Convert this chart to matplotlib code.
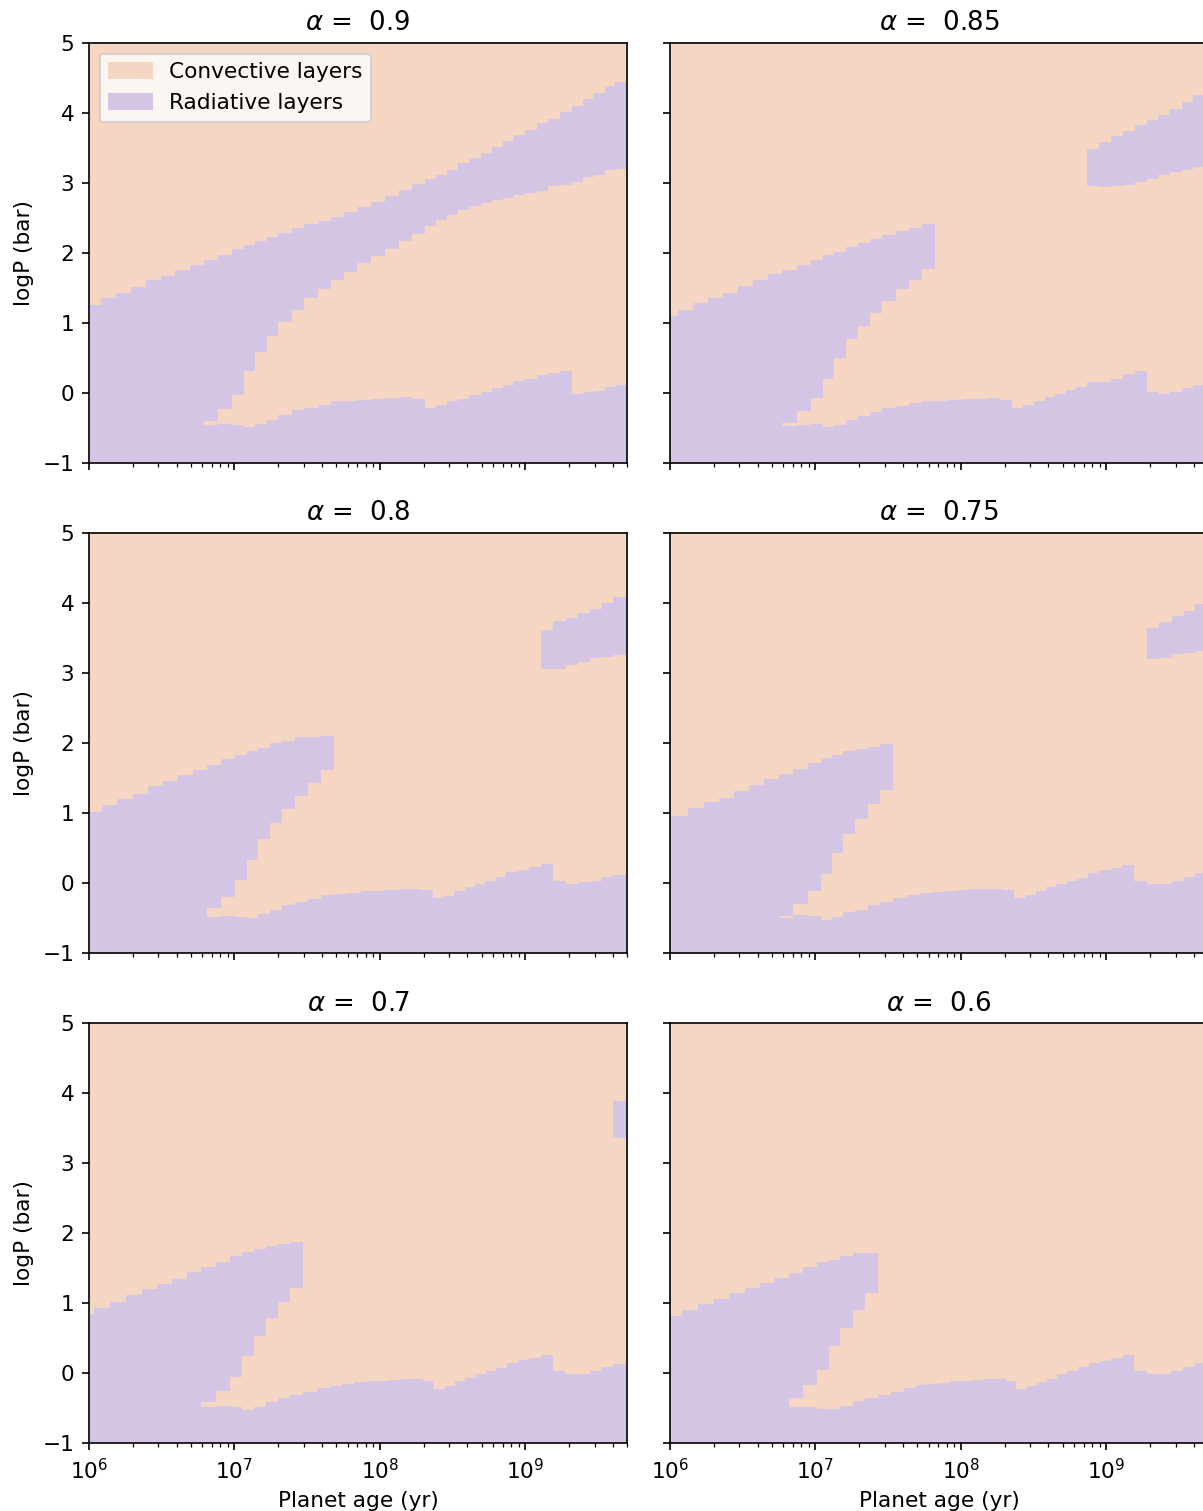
import numpy as np
import matplotlib
matplotlib.use('Agg')
import matplotlib.pyplot as plt
from matplotlib.patches import Patch

plt.rcParams['font.size'] = 10.4

nan = np.nan

conv_color = '#f4d6c3'
rad_color = '#d3c5e3'
YMIN, YMAX = -1, 5

alphas = ['0.9', '0.85', '0.8', '0.75', '0.7', '0.6']

# step edges in log10(age/yr); band = upper radiative zone, deep = lower radiative zone top
log_age_090 = [6.000, 6.083, 6.186, 6.289, 6.392, 6.495, 6.591, 6.694, 6.791, 6.887, 6.983,
               7.066, 7.141, 7.224, 7.299, 7.396, 7.478, 7.574, 7.664, 7.753, 7.843, 7.939,
               8.035, 8.131, 8.221, 8.310, 8.386, 8.461, 8.537, 8.613, 8.695, 8.771, 8.846,
               8.922, 8.998, 9.080, 9.156, 9.238, 9.321, 9.396, 9.472, 9.548, 9.616, 9.699]
band_top_090 = [1.26, 1.36, 1.43, 1.51, 1.61, 1.67, 1.75, 1.83, 1.90, 1.97, 2.05, 2.11, 2.17,
                2.23, 2.29, 2.35, 2.41, 2.46, 2.52, 2.58, 2.66, 2.73, 2.81, 2.90, 2.99, 3.05,
                3.11, 3.19, 3.28, 3.35, 3.43, 3.52, 3.60, 3.69, 3.76, 3.85, 3.92, 4.02, 4.10,
                4.20, 4.28, 4.38, 4.44]
band_bot_090 = [-1, -1, -1, -1, -1, -1, -1, -1, -0.40, -0.23, -0.03, 0.31, 0.59, 0.81, 1.01,
                1.19, 1.36, 1.48, 1.61, 1.73, 1.86, 1.95, 2.05, 2.17, 2.27, 2.38, 2.47, 2.54,
                2.62, 2.67, 2.71, 2.76, 2.79, 2.83, 2.86, 2.89, 2.95, 2.97, 3.02, 3.09, 3.11,
                3.18, 3.20]
deep_top_090 = [nan] * 8 + [-0.46, -0.44, -0.46, -0.49, -0.44, -0.38, -0.31, -0.25, -0.21,
                            -0.17, -0.11, -0.11, -0.10, -0.09, -0.07, -0.06, -0.08, -0.21,
                            -0.17, -0.11, -0.08, -0.03, 0.02, 0.07, 0.11, 0.17, 0.20, 0.25,
                            0.28, 0.31, -0.01, 0.01, 0.03, 0.08, 0.11]

log_age_085 = [6.000, 6.055, 6.158, 6.261, 6.364, 6.468, 6.571, 6.674, 6.770, 6.873, 6.969,
               7.052, 7.128, 7.210, 7.293, 7.375, 7.458, 7.554, 7.643, 7.733, 7.822, 7.911,
               8.008, 8.097, 8.186, 8.269, 8.351, 8.427, 8.503, 8.578, 8.647, 8.723, 8.791,
               8.867, 8.949, 9.032, 9.114, 9.197, 9.279, 9.355, 9.438, 9.520, 9.596, 9.699]
band_top_085 = [1.10, 1.18, 1.28, 1.36, 1.43, 1.53, 1.61, 1.70, 1.76, 1.83, 1.90, 1.97, 2.02,
                2.08, 2.14, 2.20, 2.25, 2.31, 2.35, 2.41] + [nan] * 13 + \
               [3.49, 3.58, 3.67, 3.74, 3.83, 3.90, 3.97, 4.06, 4.15, 4.26]
band_bot_085 = [-1, -1, -1, -1, -1, -1, -1, -1, -0.43, -0.26, -0.07, 0.20, 0.50, 0.77, 0.96,
                1.14, 1.32, 1.49, 1.61, 1.77] + [nan] * 13 + \
               [2.95, 2.94, 2.95, 2.97, 3.01, 3.05, 3.11, 3.15, 3.18, 3.23]
deep_top_085 = [nan] * 8 + [-0.47, -0.46, -0.44, -0.49, -0.46, -0.39, -0.33, -0.27, -0.21,
                            -0.18, -0.15, -0.11, -0.11, -0.10, -0.09, -0.08, -0.07, -0.10,
                            -0.21, -0.17, -0.11, -0.06, -0.01, 0.04, 0.08, 0.15, 0.16, 0.20,
                            0.27, 0.31, 0.01, -0.01, 0.02, 0.07, 0.11]

log_age_080 = [6.000, 6.089, 6.193, 6.303, 6.406, 6.509, 6.612, 6.715, 6.811, 6.908, 7.004,
               7.086, 7.162, 7.244, 7.327, 7.416, 7.506, 7.595, 7.684, 7.774, 7.870, 7.953,
               8.042, 8.124, 8.207, 8.283, 8.365, 8.434, 8.509, 8.585, 8.654, 8.723, 8.798,
               8.867, 8.943, 9.025, 9.108, 9.190, 9.279, 9.362, 9.444, 9.527, 9.603, 9.699]
band_top_080 = [1.02, 1.11, 1.20, 1.27, 1.38, 1.45, 1.54, 1.61, 1.68, 1.77, 1.83, 1.89, 1.93,
                2.00, 2.03, 2.09, 2.08, 2.10] + [nan] * 18 + \
               [3.62, 3.74, 3.79, 3.86, 3.92, 4.00, 4.08]
band_bot_080 = [-1, -1, -1, -1, -1, -1, -1, -1, -0.36, -0.20, 0.04, 0.33, 0.63, 0.86, 1.06,
                1.24, 1.43, 1.61] + [nan] * 18 + \
               [3.05, 3.06, 3.11, 3.16, 3.21, 3.23, 3.26]
deep_top_080 = [nan] * 8 + [-0.48, -0.47, -0.48, -0.50, -0.44, -0.39, -0.32, -0.27, -0.23,
                            -0.17, -0.16, -0.14, -0.11, -0.11, -0.10, -0.09, -0.08, -0.10,
                            -0.22, -0.18, -0.12, -0.06, -0.01, 0.03, 0.08, 0.15, 0.19, 0.23,
                            0.27, 0.03, -0.01, 0.01, 0.03, 0.08, 0.11]

log_age_075 = [6.000, 6.124, 6.234, 6.337, 6.440, 6.543, 6.646, 6.749, 6.846, 6.949, 7.038,
               7.114, 7.189, 7.272, 7.361, 7.444, 7.533, 7.629, 7.719, 7.808, 7.891, 7.973,
               8.056, 8.138, 8.221, 8.289, 8.365, 8.448, 8.516, 8.585, 8.654, 8.729, 8.798,
               8.874, 8.949, 9.032, 9.108, 9.190, 9.279, 9.362, 9.451, 9.534, 9.609, 9.699]
band_top_075 = [0.96, 1.07, 1.15, 1.22, 1.32, 1.40, 1.48, 1.56, 1.63, 1.72, 1.79, 1.83, 1.89,
                1.92, 1.94, 1.98] + [nan] * 22 + [3.64, 3.73, 3.82, 3.89, 3.98]
band_bot_075 = [-1, -1, -1, -1, -1, -1, -1, -0.47, -0.30, -0.11, 0.13, 0.43, 0.70, 0.92,
                1.13, 1.33] + [nan] * 22 + [3.20, 3.22, 3.27, 3.28, 3.31]
deep_top_075 = [nan] * 7 + [-0.50, -0.46, -0.47, -0.53, -0.48, -0.42, -0.38, -0.31, -0.27,
                            -0.21, -0.17, -0.15, -0.13, -0.11, -0.10, -0.09, -0.09, -0.08,
                            -0.10, -0.22, -0.17, -0.12, -0.06, -0.01, 0.03, 0.07, 0.14, 0.18,
                            0.22, 0.26, 0.03, -0.01, -0.01, 0.03, 0.08, 0.14]

log_age_070 = [6.000, 6.034, 6.144, 6.254, 6.364, 6.468, 6.571, 6.674, 6.770, 6.873, 6.969,
               7.052, 7.134, 7.217, 7.299, 7.382, 7.471, 7.568, 7.657, 7.739, 7.822, 7.904,
               7.980, 8.063, 8.145, 8.221, 8.296, 8.372, 8.448, 8.516, 8.585, 8.661, 8.729,
               8.798, 8.874, 8.949, 9.025, 9.108, 9.190, 9.273, 9.355, 9.444, 9.527, 9.603,
               9.699]
band_top_070 = [0.85, 0.93, 1.01, 1.11, 1.20, 1.27, 1.34, 1.44, 1.51, 1.58, 1.67, 1.73, 1.77,
                1.81, 1.85, 1.87] + [nan] * 27 + [3.89]
band_bot_070 = [-1, -1, -1, -1, -1, -1, -1, -1, -0.41, -0.25, -0.05, 0.24, 0.53, 0.79, 1.01,
                1.21] + [nan] * 27 + [3.36]
deep_top_070 = [nan] * 8 + [-0.48, -0.47, -0.48, -0.53, -0.49, -0.42, -0.36, -0.31, -0.27,
                            -0.21, -0.18, -0.15, -0.13, -0.11, -0.11, -0.10, -0.09, -0.08,
                            -0.11, -0.23, -0.18, -0.12, -0.07, -0.01, 0.03, 0.07, 0.14, 0.19,
                            0.22, 0.26, 0.03, -0.01, -0.01, 0.03, 0.08, 0.13]

log_age_060 = [6.000, 6.083, 6.193, 6.303, 6.413, 6.516, 6.619, 6.715, 6.818, 6.914, 7.011,
               7.093, 7.169, 7.258, 7.341, 7.430, 7.519, 7.609, 7.691, 7.767, 7.843, 7.925,
               8.001, 8.076, 8.152, 8.228, 8.310, 8.379, 8.454, 8.523, 8.592, 8.661, 8.729,
               8.805, 8.881, 8.956, 9.032, 9.114, 9.190, 9.279, 9.362, 9.444, 9.527, 9.609,
               9.699]
band_top_060 = [0.81, 0.90, 0.98, 1.06, 1.14, 1.21, 1.28, 1.36, 1.43, 1.52, 1.59, 1.62, 1.67,
                1.71, 1.71] + [nan] * 29
band_bot_060 = [-1, -1, -1, -1, -1, -1, -1, -1, -0.36, -0.17, 0.04, 0.39, 0.64, 0.90,
                1.14] + [nan] * 29
deep_top_060 = [nan] * 8 + [-0.49, -0.48, -0.51, -0.51, -0.47, -0.40, -0.35, -0.31, -0.27,
                            -0.22, -0.17, -0.16, -0.14, -0.12, -0.11, -0.10, -0.09, -0.09,
                            -0.11, -0.23, -0.19, -0.13, -0.08, -0.02, 0.03, 0.08, 0.14, 0.17,
                            0.22, 0.26, 0.03, -0.01, -0.01, 0.03, 0.08, 0.14]

panels = [
    (log_age_090, band_top_090, band_bot_090, deep_top_090),
    (log_age_085, band_top_085, band_bot_085, deep_top_085),
    (log_age_080, band_top_080, band_bot_080, deep_top_080),
    (log_age_075, band_top_075, band_bot_075, deep_top_075),
    (log_age_070, band_top_070, band_bot_070, deep_top_070),
    (log_age_060, band_top_060, band_bot_060, deep_top_060),
]


def draw_panel(ax, log_age, band_top, band_bot, deep_top):
    ages = 10 ** np.array(log_age)
    left = ages[:-1]
    width = np.diff(ages)
    bt = np.array(band_top)
    bb = np.array(band_bot)
    dt = np.array(deep_top)
    ax.fill_between(ages, YMIN, YMAX, color=conv_color, lw=0)
    m = np.isfinite(bt)
    ax.bar(left[m], bt[m] - bb[m], width[m], bottom=bb[m], align='edge',
           color=rad_color, lw=0)
    m = np.isfinite(dt)
    ax.bar(left[m], dt[m] - YMIN, width[m], bottom=YMIN, align='edge',
           color=rad_color, lw=0)


fig = plt.figure(figsize=(1203 / 150, 1511 / 150), dpi=150)
W, H = 1203.0, 1511.0
col_left = [89, 670]
row_top = [43, 533, 1023]
ax_w, ax_h = 538, 420

for i, (alpha, data) in enumerate(zip(alphas, panels)):
    r, c = divmod(i, 2)
    ax = fig.add_axes([col_left[c] / W, 1 - (row_top[r] + ax_h) / H, ax_w / W, ax_h / H])
    draw_panel(ax, *data)
    ax.set_xscale('log')
    ax.set_xlim(1e6, 5e9)
    ax.set_ylim(YMIN, YMAX)
    ax.set_yticks(range(-1, 6))
    ax.set_title(r'$\alpha$ =  ' + alpha)
    if c == 0:
        ax.set_ylabel('logP (bar)')
    else:
        ax.tick_params(labelleft=False)
    if r == 2:
        ax.set_xlabel('Planet age (yr)')
    else:
        ax.tick_params(labelbottom=False)
    if i == 0:
        handles = [Patch(color=conv_color, label='Convective layers'),
                   Patch(color=rad_color, label='Radiative layers')]
        ax.legend(handles=handles, loc='upper left')

fig.savefig('out.png', dpi=150)
